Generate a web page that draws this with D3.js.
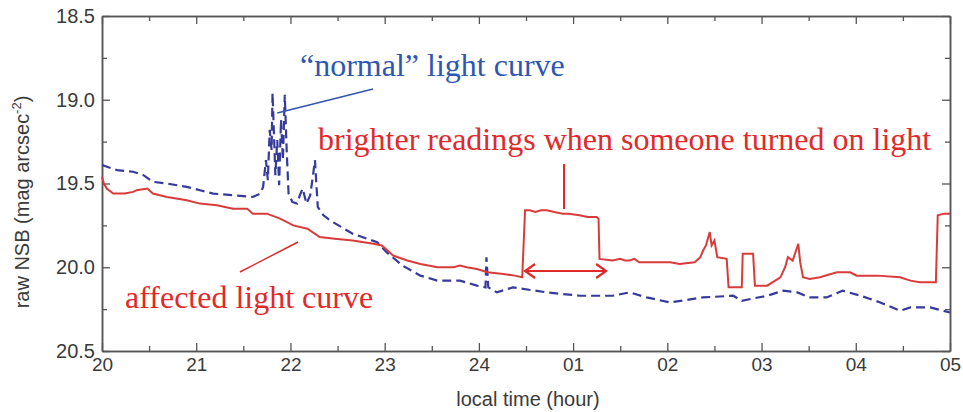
<!DOCTYPE html>
<html>
<head>
<meta charset="utf-8">
<script src="https://cdn.jsdelivr.net/npm/d3@7"></script>
<style>
  html, body { margin: 0; padding: 0; background: #fff; }
  svg { display: block; }
</style>
</head>
<body>
<svg id="chart" width="963" height="412"></svg>
<script>
// ---- data ----
const xTickValues = [20, 21, 22, 23, 24, 25, 26, 27, 28, 29];
const xTickLabels = ["20", "21", "22", "23", "24", "01", "02", "03", "04", "05"];
const yTickValues = [18.5, 19.0, 19.5, 20.0, 20.5];
const yTickLabels = ["18.5", "19.0", "19.5", "20.0", "20.5"];

// affected light curve (hour since 20:00 continuing past 24, raw NSB)
const affectedHours = [20.00,20.02,20.05,20.12,20.24,20.33,20.37,20.48,20.54,20.69,20.90,21.04,21.22,21.39,21.54,21.60,21.75,21.89,22.03,22.18,22.31,22.47,22.66,22.88,22.97,23.09,23.24,23.38,23.56,23.73,23.80,23.87,23.98,24.09,24.26,24.38,24.46,24.49,24.54,24.60,24.66,24.72,24.80,24.89,24.95,25.07,25.15,25.25,25.27,25.28,25.42,25.50,25.55,25.60,25.65,25.70,25.78,26.03,26.13,26.29,26.35,26.38,26.41,26.43,26.45,26.47,26.50,26.53,26.63,26.65,26.79,26.80,26.91,26.93,27.06,27.20,27.25,27.28,27.33,27.39,27.41,27.44,27.51,27.62,27.80,27.94,28.01,28.23,28.47,28.58,28.68,28.85,28.87,28.94,29.00];
const affectedNSB   = [19.46,19.50,19.53,19.56,19.56,19.55,19.54,19.53,19.56,19.58,19.60,19.62,19.63,19.65,19.65,19.68,19.68,19.71,19.75,19.77,19.82,19.83,19.84,19.86,19.87,19.93,19.96,19.98,20.00,20.00,19.99,20.00,20.01,20.03,20.04,20.05,20.06,19.66,19.66,19.67,19.66,19.66,19.67,19.68,19.68,19.69,19.70,19.70,19.71,19.95,19.96,19.95,19.96,19.96,19.95,19.97,19.97,19.97,19.98,19.97,19.94,19.90,19.87,19.83,19.79,19.87,19.84,19.94,19.95,20.12,20.12,19.92,19.92,20.11,20.11,20.06,20.00,19.94,19.96,19.86,19.97,20.06,20.07,20.06,20.03,20.03,20.05,20.05,20.06,20.08,20.09,20.09,19.69,19.68,19.68];

// "normal" light curve
const normalHours = [20.00,20.16,20.33,20.44,20.54,20.69,20.90,21.04,21.18,21.39,21.60,21.68,21.71,21.74,21.76,21.78,21.80,21.81,21.84,21.86,21.88,21.90,21.92,21.94,21.96,21.98,22.02,22.07,22.10,22.13,22.17,22.21,22.24,22.26,22.29,22.35,22.42,22.66,22.92,23.02,23.19,23.38,23.56,23.80,23.98,24.07,24.08,24.10,24.19,24.36,24.72,25.07,25.42,25.60,25.78,26.03,26.38,26.70,26.79,27.06,27.23,27.38,27.51,27.69,27.86,28.05,28.26,28.47,28.58,28.79,29.00];
const normalNSB   = [19.39,19.42,19.43,19.45,19.49,19.50,19.52,19.54,19.56,19.57,19.58,19.56,19.52,19.36,19.48,19.18,19.30,18.96,19.45,19.24,19.51,19.12,19.36,18.97,19.30,19.56,19.61,19.62,19.57,19.53,19.62,19.57,19.45,19.36,19.64,19.69,19.72,19.80,19.85,19.91,19.99,20.05,20.08,20.08,20.11,20.12,19.94,20.12,20.15,20.12,20.15,20.17,20.17,20.15,20.18,20.21,20.18,20.17,20.20,20.17,20.14,20.15,20.18,20.18,20.14,20.17,20.21,20.26,20.24,20.24,20.27];

// ---- chart ----
const svg = d3.select("#chart");
const L = 102, R = 950, T = 16, B = 351;
const x = d3.scaleLinear().domain([20, 29]).range([L, R]);
const y = d3.scaleLinear().domain([18.5, 20.5]).range([T, B]);

const axisColor = "#555";
const textColor = "#3a3a3a";
const redC = "#e02a2a";
const redLine = "#d93b3b";
const blueText = "#2f56b0";
const blueLine = "#353a9c";

const minorX = d3.range(20.5, 29, 1);
const minorY = [18.75, 19.25, 19.75, 20.25];

function styleAxis(g) {
  g.select(".domain").attr("stroke", axisColor).attr("stroke-width", 1.5);
  g.selectAll(".tick line").attr("stroke", axisColor).attr("stroke-width", 1.3);
  g.selectAll(".tick text").attr("fill", textColor)
    .attr("font-family", "Liberation Sans, Arial, sans-serif");
}

// bottom
svg.append("g").attr("transform", `translate(0,${B})`)
  .call(d3.axisBottom(x).tickValues(xTickValues)
    .tickFormat((d, i) => xTickLabels[i]).tickSizeInner(-8).tickSizeOuter(0).tickPadding(7))
  .call(styleAxis)
  .call(g => g.selectAll(".tick text").attr("font-size", 19));
svg.append("g").attr("transform", `translate(0,${B})`)
  .call(d3.axisBottom(x).tickValues(minorX).tickFormat("").tickSizeInner(-5).tickSizeOuter(0))
  .call(styleAxis);
// top
svg.append("g").attr("transform", `translate(0,${T})`)
  .call(d3.axisTop(x).tickValues(xTickValues).tickFormat("").tickSizeInner(-8).tickSizeOuter(0))
  .call(styleAxis);
svg.append("g").attr("transform", `translate(0,${T})`)
  .call(d3.axisTop(x).tickValues(minorX).tickFormat("").tickSizeInner(-5).tickSizeOuter(0))
  .call(styleAxis);
// left
svg.append("g").attr("transform", `translate(${L},0)`)
  .call(d3.axisLeft(y).tickValues(yTickValues)
    .tickFormat((d, i) => yTickLabels[i]).tickSizeInner(-8).tickSizeOuter(0).tickPadding(7))
  .call(styleAxis)
  .call(g => g.selectAll(".tick text").attr("font-size", 20));
svg.append("g").attr("transform", `translate(${L},0)`)
  .call(d3.axisLeft(y).tickValues(minorY).tickFormat("").tickSizeInner(-5).tickSizeOuter(0))
  .call(styleAxis);
// right
svg.append("g").attr("transform", `translate(${R},0)`)
  .call(d3.axisRight(y).tickValues(yTickValues).tickFormat("").tickSizeInner(-8).tickSizeOuter(0))
  .call(styleAxis);
svg.append("g").attr("transform", `translate(${R},0)`)
  .call(d3.axisRight(y).tickValues(minorY).tickFormat("").tickSizeInner(-5).tickSizeOuter(0))
  .call(styleAxis);

// axis titles
svg.append("text")
  .attr("x", (L + R) / 2 + 2).attr("y", 406)
  .attr("text-anchor", "middle")
  .attr("font-family", "Liberation Sans, Arial, sans-serif")
  .attr("font-size", 20).attr("fill", textColor)
  .text("local time (hour)");

const yt = svg.append("text")
  .attr("transform", "translate(29,202) rotate(-90)")
  .attr("text-anchor", "middle")
  .attr("font-family", "Liberation Sans, Arial, sans-serif")
  .attr("font-size", 20).attr("fill", textColor);
yt.append("tspan").text("raw NSB (mag arcsec");
yt.append("tspan").attr("font-size", 13).attr("dy", -8).text("-2");
yt.append("tspan").attr("dy", 8).text(")");

// lines
const line = d3.line().x(d => x(d[0])).y(d => y(d[1]));
const normalData = normalHours.map((h, i) => [h, normalNSB[i]]);
const affectedData = affectedHours.map((h, i) => [h, affectedNSB[i]]);

svg.append("path").datum(normalData)
  .attr("d", line).attr("fill", "none")
  .attr("stroke", blueLine).attr("stroke-width", 2.2)
  .attr("stroke-dasharray", "9,5");

svg.append("path").datum(affectedData)
  .attr("d", line).attr("fill", "none")
  .attr("stroke", redLine).attr("stroke-width", 2);

// annotations
const serif = "Liberation Serif, Times New Roman, serif";
svg.append("text").attr("x", 300).attr("y", 76)
  .attr("font-family", serif).attr("font-size", 32).attr("fill", blueText)
  .text("\u201Cnormal\u201D light curve");
svg.append("line")
  .attr("x1", x(21.86)).attr("y1", 113).attr("x2", 373).attr("y2", 89)
  .attr("stroke", blueText).attr("stroke-width", 1.5);

svg.append("text").attr("x", 318).attr("y", 150)
  .attr("font-family", serif).attr("font-size", 32).attr("fill", redC)
  .text("brighter readings when someone turned on light");
svg.append("line")
  .attr("x1", 564).attr("y1", 164).attr("x2", 564).attr("y2", y(19.67) - 3)
  .attr("stroke", redC).attr("stroke-width", 2);

svg.append("text").attr("x", 125).attr("y", 308)
  .attr("font-family", serif).attr("font-size", 32).attr("fill", redC)
  .text("affected light curve");
svg.append("line")
  .attr("x1", 240).attr("y1", 272).attr("x2", 298).attr("y2", 242)
  .attr("stroke", redC).attr("stroke-width", 1.5);

// double-headed arrow (span of lamp-on period)
const ax1 = x(24.49), ax2 = x(25.35), ay = 271;
const arrow = svg.append("g").attr("stroke", redC).attr("stroke-width", 2.2).attr("fill", "none");
arrow.append("line").attr("x1", ax1).attr("y1", ay).attr("x2", ax2).attr("y2", ay);
arrow.append("path").attr("d", `M${ax1 + 10},${ay - 7} L${ax1},${ay} L${ax1 + 10},${ay + 7}`);
arrow.append("path").attr("d", `M${ax2 - 10},${ay - 7} L${ax2},${ay} L${ax2 - 10},${ay + 7}`);
</script>
</body>
</html>
